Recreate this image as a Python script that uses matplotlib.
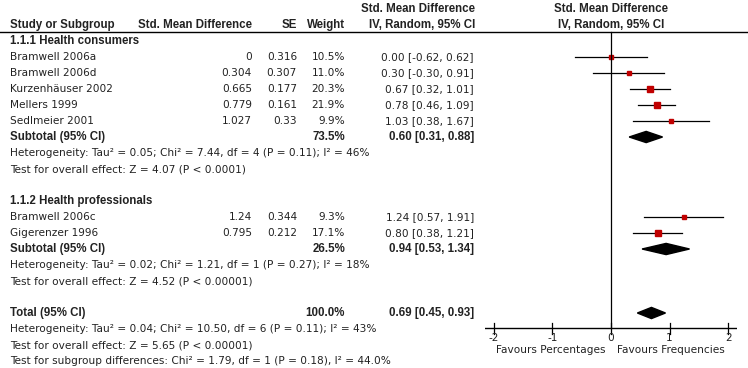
import matplotlib.pyplot as plt
from matplotlib.patches import Polygon

# study rows
g1_names = ["Bramwell 2006a", "Bramwell 2006d", "Kurzenhäuser 2002", "Mellers 1999", "Sedlmeier 2001"]
g1_smd = ["0", "0.304", "0.665", "0.779", "1.027"]
g1_se = ["0.316", "0.307", "0.177", "0.161", "0.33"]
g1_w = [10.5, 11.0, 20.3, 21.9, 9.9]
g1_est = [0.00, 0.30, 0.67, 0.78, 1.03]
g1_lo = [-0.62, -0.30, 0.32, 0.46, 0.38]
g1_hi = [0.62, 0.91, 1.01, 1.09, 1.67]

g2_names = ["Bramwell 2006c", "Gigerenzer 1996"]
g2_smd = ["1.24", "0.795"]
g2_se = ["0.344", "0.212"]
g2_w = [9.3, 17.1]
g2_est = [1.24, 0.80]
g2_lo = [0.57, 0.38]
g2_hi = [1.91, 1.21]

# pooled: subgroup 1, subgroup 2, total
pool_w = [73.5, 26.5, 100.0]
pool_est = [0.60, 0.94, 0.69]
pool_lo = [0.31, 0.53, 0.45]
pool_hi = [0.88, 1.34, 0.93]

het = ["Heterogeneity: Tau² = 0.05; Chi² = 7.44, df = 4 (P = 0.11); I² = 46%",
       "Heterogeneity: Tau² = 0.02; Chi² = 1.21, df = 1 (P = 0.27); I² = 18%",
       "Heterogeneity: Tau² = 0.04; Chi² = 10.50, df = 6 (P = 0.11); I² = 43%"]
zt = ["Test for overall effect: Z = 4.07 (P < 0.0001)",
      "Test for overall effect: Z = 4.52 (P < 0.00001)",
      "Test for overall effect: Z = 5.65 (P < 0.00001)"]
subgroup_test = "Test for subgroup differences: Chi² = 1.79, df = 1 (P = 0.18), I² = 44.0%"

ticks = [-2, -1, 0, 1, 2]

W, H = 748, 368
fs = 7.6
fsb = 8.3
reg = ['DejaVu Sans']
bld = ['Liberation Sans', 'DejaVu Sans']
fig = plt.figure(figsize=(W / 100, H / 100), dpi=100)
y0, dy = 41, 16
ytop, ybot = -y0 / dy, (H - y0) / dy

tx = fig.add_axes([0, 0, 1, 1])
tx.set_xlim(0, W); tx.set_ylim(ybot, ytop); tx.axis('off')
fx = fig.add_axes([485 / W, 0, 252 / W, 1])
fx.set_xlim(-2.15, 2.15); fx.set_ylim(ybot, ytop); fx.axis('off')

red = '#c00000'
ink = '#222222'

def t(x, y, s, ha='left', bold=False):
    if bold:
        tx.text(x, y, s, ha=ha, va='center', fontsize=fsb, family=bld, fontweight='bold', color=ink)
    else:
        tx.text(x, y, s, ha=ha, va='center', fontsize=fs, family=reg, color=ink)

# headers
hr1, hr2 = -2, -1
t(418, hr1, "Std. Mean Difference", 'center', True)
t(611, hr1, "Std. Mean Difference", 'center', True)
t(10, hr2, "Study or Subgroup", bold=True)
t(195, hr2, "Std. Mean Difference", 'center', True)
t(297, hr2, "SE", 'right', True)
t(345, hr2, "Weight", 'right', True)
t(422, hr2, "IV, Random, 95% CI", 'center', True)
t(611, hr2, "IV, Random, 95% CI", 'center', True)
tx.plot([0, W], [-0.56, -0.56], color='black', lw=1)

def study_rows(start, names, smd, se, w, est, lo, hi):
    for i in range(len(names)):
        r = start + i
        t(10, r, names[i])
        t(252, r, smd[i], 'right')
        t(297, r, se[i], 'right')
        t(345, r, "%.1f%%" % w[i], 'right')
        t(474, r, "%.2f [%.2f, %.2f]" % (est[i], lo[i], hi[i]), 'right')
        fx.plot([lo[i], hi[i]], [r, r], color='black', lw=0.9)
        fx.plot(est[i], r, 's', color=red, markersize=0.95 * w[i] ** 0.5, mec=red)

def pooled(r, k, label):
    t(10, r, label, bold=True)
    t(345, r, "%.1f%%" % pool_w[k], 'right', True)
    t(474, r, "%.2f [%.2f, %.2f]" % (pool_est[k], pool_lo[k], pool_hi[k]), 'right', True)
    h = 0.35
    fx.add_patch(Polygon([(pool_lo[k], r), (pool_est[k], r - h), (pool_hi[k], r), (pool_est[k], r + h)],
                         closed=True, color='black'))

t(10, 0, "1.1.1 Health consumers", bold=True)
study_rows(1, g1_names, g1_smd, g1_se, g1_w, g1_est, g1_lo, g1_hi)
pooled(6, 0, "Subtotal (95% CI)")
t(10, 7, het[0]); t(10, 8, zt[0])

t(10, 10, "1.1.2 Health professionals", bold=True)
study_rows(11, g2_names, g2_smd, g2_se, g2_w, g2_est, g2_lo, g2_hi)
pooled(13, 1, "Subtotal (95% CI)")
t(10, 14, het[1]); t(10, 15, zt[1])

pooled(17, 2, "Total (95% CI)")
t(10, 18, het[2]); t(10, 19, zt[2]); t(10, 20, subgroup_test)

# axis
ay = (328 - y0) / dy
fx.plot([0, 0], [-0.56, ay], color='black', lw=0.9)
fx.plot([-2.15, 2.15], [ay, ay], color='black', lw=1)
for v in ticks:
    fx.plot([v, v], [ay - 0.3, ay + 0.4], color='black', lw=0.9)
    fx.text(v, ay + 0.62, str(v), ha='center', va='center', fontsize=fs, family=reg, color=ink)
fx.text(-0.1, ay + 1.4, "Favours Percentages", ha='right', va='center', fontsize=fs, family=reg, color=ink)
fx.text(0.1, ay + 1.4, "Favours Frequencies", ha='left', va='center', fontsize=fs, family=reg, color=ink)

fig.savefig('out.png', dpi=100)
